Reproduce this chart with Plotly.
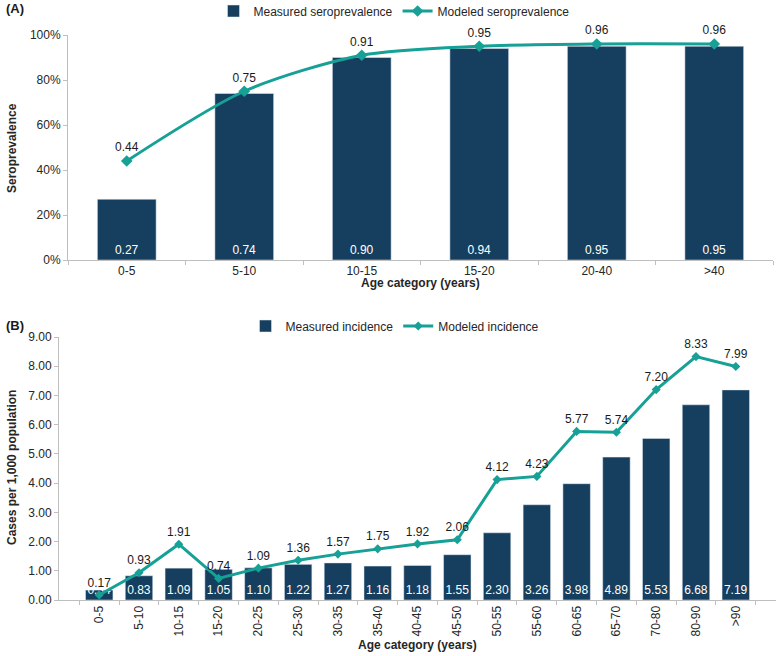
import plotly.graph_objects as go

# ---- Data ----
sero_categories = ["0-5", "5-10", "10-15", "15-20", "20-40", ">40"]
sero_measured = [0.27, 0.74, 0.90, 0.94, 0.95, 0.95]
sero_modeled = [0.44, 0.75, 0.91, 0.95, 0.96, 0.96]

inc_categories = ["0-5", "5-10", "10-15", "15-20", "20-25", "25-30", "30-35", "35-40",
                  "40-45", "45-50", "50-55", "55-60", "60-65", "65-70", "70-80", "80-90", ">90"]
inc_measured = [0.34, 0.83, 1.09, 1.05, 1.10, 1.22, 1.27, 1.16, 1.18, 1.55, 2.30,
                3.26, 3.98, 4.89, 5.53, 6.68, 7.19]
inc_modeled = [0.17, 0.93, 1.91, 0.74, 1.09, 1.36, 1.57, 1.75, 1.92, 2.06, 4.12,
               4.23, 5.77, 5.74, 7.20, 8.33, 7.99]

NAVY = "#163f5f"
TEAL = "#16a096"
FONT = "Liberation Sans, Arial, sans-serif"
W, H = 776, 656
MT, MB = 35, 56
PH = H - MT - MB


def py(px):
    """page pixel y -> paper y"""
    return (H - MB - px) / PH


def pxx(px):
    """page pixel x -> paper x"""
    return px / W


fig = go.Figure()

fig.add_trace(go.Bar(
    x=sero_categories, y=sero_measured, name="Measured seroprevalence",
    marker_color=NAVY, width=0.5,
    text=[f"{v:.2f}" for v in sero_measured], textposition="inside", textangle=0,
    constraintext="none",
    insidetextanchor="start", textfont=dict(color="white", size=12, family=FONT),
    xaxis="x", yaxis="y", legend="legend", cliponaxis=False,
))
fig.add_trace(go.Scatter(
    x=sero_categories, y=sero_modeled, name="Modeled seroprevalence",
    mode="lines+markers+text", line=dict(color=TEAL, width=3, shape="spline", smoothing=0.8),
    marker=dict(symbol="diamond", size=9, color=TEAL),
    text=[f"{v:.2f}" for v in sero_modeled], textposition="top center",
    textfont=dict(color="#1a1a1a", size=12, family=FONT),
    xaxis="x", yaxis="y", legend="legend", cliponaxis=False,
))

fig.add_trace(go.Bar(
    x=inc_categories, y=inc_measured, name="Measured incidence",
    marker_color=NAVY, width=0.69,
    text=[f"{v:.2f}" for v in inc_measured], textposition="inside", textangle=0,
    constraintext="none",
    insidetextanchor="start", textfont=dict(color="white", size=12, family=FONT),
    xaxis="x2", yaxis="y2", legend="legend2", cliponaxis=False,
))
fig.add_trace(go.Scatter(
    x=inc_categories, y=inc_modeled, name="Modeled incidence",
    mode="lines+markers+text", line=dict(color=TEAL, width=3),
    marker=dict(symbol="diamond", size=7, color=TEAL),
    text=[f"{v:.2f}" for v in inc_modeled], textposition="top center",
    textfont=dict(color="#1a1a1a", size=12, family=FONT),
    xaxis="x2", yaxis="y2", legend="legend2", cliponaxis=False,
))

axis_common = dict(showgrid=False, zeroline=False, showline=True, linecolor="#bfbfbf",
                   linewidth=1, ticks="outside", ticklen=4, tickcolor="#bfbfbf",
                   tickfont=dict(size=12, color="#262626", family=FONT), automargin=False)

fig.update_layout(
    width=W, height=H,
    margin=dict(l=0, r=0, t=MT, b=MB, autoexpand=False),
    paper_bgcolor="white", plot_bgcolor="white",
    font=dict(family=FONT, size=12, color="#262626"),
    xaxis=dict(domain=[pxx(68), pxx(773)], anchor="y", type="category",
               tickson="boundaries", **axis_common),
    yaxis=dict(domain=[py(260), 1.0], anchor="x", range=[0, 1.0], tickvals=[0, 0.2, 0.4, 0.6, 0.8, 1.0],
               tickformat=".0%", **axis_common),
    xaxis2=dict(domain=[pxx(59), 1.0], anchor="y2", type="category",
                tickson="boundaries", tickangle=-90, **axis_common),
    yaxis2=dict(domain=[0, py(337)], anchor="x2", range=[0, 9], dtick=1,
                tickformat=".2f", **axis_common),
    legend=dict(orientation="h", x=pxx(394), xanchor="center", y=py(11), yanchor="middle",
                font=dict(size=12, color="#262626", family=FONT), bgcolor="rgba(0,0,0,0)",
                itemwidth=30, tracegroupgap=0),
    legend2=dict(orientation="h", x=pxx(395), xanchor="center", y=py(326), yanchor="middle",
                 font=dict(size=12, color="#262626", family=FONT), bgcolor="rgba(0,0,0,0)",
                 itemwidth=30, tracegroupgap=0),
    showlegend=True,
)

ann_font = dict(size=12, color="#262626", family=FONT)
fig.add_annotation(text="<b>(A)</b>", xref="paper", yref="paper", x=pxx(4), y=py(9),
                   xanchor="left", yanchor="middle", showarrow=False,
                   font=dict(size=13, color="#1a1a1a", family=FONT))
fig.add_annotation(text="<b>(B)</b>", xref="paper", yref="paper", x=pxx(4), y=py(325),
                   xanchor="left", yanchor="middle", showarrow=False,
                   font=dict(size=13, color="#1a1a1a", family=FONT))
fig.add_annotation(text="<b>Seroprevalence</b>", xref="paper", yref="paper", x=pxx(12), y=py(148),
                   xanchor="center", yanchor="middle", textangle=-90, showarrow=False, font=ann_font)
fig.add_annotation(text="<b>Cases per 1,000 population</b>", xref="paper", yref="paper",
                   x=pxx(12), y=py(468), xanchor="center", yanchor="middle", textangle=-90,
                   showarrow=False, font=ann_font)
fig.add_annotation(text="<b>Age category (years)</b>", xref="paper", yref="paper",
                   x=pxx(420), y=py(283), xanchor="center", yanchor="middle", showarrow=False,
                   font=ann_font)
fig.add_annotation(text="<b>Age category (years)</b>", xref="paper", yref="paper",
                   x=pxx(417), y=py(645), xanchor="center", yanchor="middle", showarrow=False,
                   font=ann_font)

fig.write_html("out.html", config={"displayModeBar": False},
               post_script="document.body.style.margin='0px';")
